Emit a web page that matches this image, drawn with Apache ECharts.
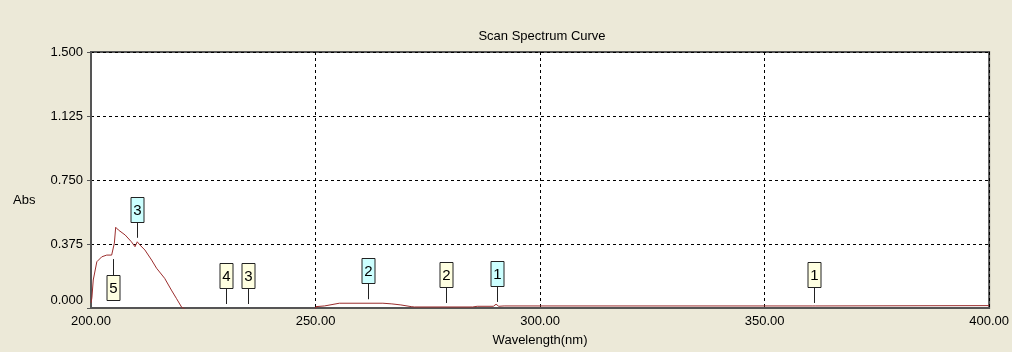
<!DOCTYPE html>
<html>
<head>
<meta charset="utf-8">
<script src="https://cdn.jsdelivr.net/npm/echarts@6/dist/echarts.min.js"></script>
<style>
html,body{margin:0;padding:0;background:#ECE9D8;}
#c{width:1012px;height:352px;}
</style>
</head>
<body>
<div id="c"></div>
<script>
// Spectrum curve (wavelength nm, absorbance)
const specWl  = [200.0, 200.2, 200.5, 201.3, 202.4, 203.5, 204.6, 205.0, 205.2, 205.5, 206.1, 207.6, 209.0, 209.8, 210.3, 210.9, 212.0, 213.5, 214.6, 216.4, 217.9, 219.0, 220.2, 222.0, 230.0, 240.0, 249.8, 250.1, 252.0, 255.3, 265.0, 267.0, 269.0, 271.3, 272.0, 285.0, 286.0, 289.6, 290.2, 290.8, 292.0, 360.6, 361.0, 361.4, 400.0];
const specAbs = [0.030, 0.060, 0.164, 0.271, 0.300, 0.310, 0.310, 0.320, 0.380, 0.473, 0.457, 0.428, 0.388, 0.359, 0.388, 0.369, 0.340, 0.281, 0.233, 0.174, 0.105, 0.057, 0.004, -0.020, -0.060, -0.050, -0.030, 0.008, 0.012, 0.028, 0.028, 0.024, 0.018, 0.008, 0.006, 0.006, 0.010, 0.010, 0.022, 0.010, 0.012, 0.012, 0.004, 0.012, 0.014];

// Peak / valley markers
const markLabel = ['5', '3', '4', '3', '2', '2', '1', '1'];
const markKind  = ['valley', 'peak', 'valley', 'valley', 'peak', 'valley', 'peak', 'valley'];
const markWl    = [204.9, 210.2, 230.0, 234.9, 261.6, 279.1, 290.4, 361.1];
const markAbs   = [0.310, 0.388, 0.000, 0.000, 0.028, 0.006, 0.012, 0.006];

// Axis ticks
const xTicks = {min: 200, max: 400, interval: 50};
const yTicks = {min: 0, max: 1.5, interval: 0.375};

const FONT = 'Liberation Sans';
const chart = echarts.init(document.getElementById('c'), null, {renderer: 'canvas'});

const lineData = specWl.map((w, i) => [w, specAbs[i]]);
const markData = markWl.map((w, i) => [w, markAbs[i], i]);

const option = {
  backgroundColor: '#ECE9D8',
  animation: false,
  title: {
    text: 'Scan Spectrum Curve',
    left: 537,
    textAlign: 'center',
    top: 25,
    textStyle: {fontFamily: FONT, fontSize: 13, fontWeight: 'normal', color: '#000'}
  },
  graphic: [{
    type: 'text', left: 13, top: 194,
    style: {text: 'Abs', font: '13px ' + FONT, fill: '#000'}
  }],
  grid: {
    left: 91, right: 21, top: 52, bottom: 44,
    show: true, backgroundColor: '#fff', borderColor: '#555', borderWidth: 2
  },
  xAxis: {
    type: 'value', min: xTicks.min, max: xTicks.max, interval: xTicks.interval,
    name: 'Wavelength(nm)', nameLocation: 'middle', nameGap: 26,
    nameTextStyle: {fontFamily: FONT, fontSize: 13, color: '#000'},
    axisLine: {show: true, lineStyle: {color: '#555', width: 2}},
    axisTick: {show: false},
    axisLabel: {fontFamily: FONT, fontSize: 13, color: '#000', margin: 7,
      formatter: v => v.toFixed(2)},
    splitLine: {show: true, lineStyle: {color: '#000', width: 1, type: [3, 3]}}
  },
  yAxis: {
    type: 'value', min: yTicks.min, max: yTicks.max, interval: yTicks.interval,
    axisLine: {show: true, lineStyle: {color: '#555', width: 2}},
    axisTick: {show: true, length: 4, lineStyle: {color: '#555'}},
    axisLabel: {fontFamily: FONT, fontSize: 13, color: '#000', margin: 8,
      formatter: v => v === 0 ? '{z|0.000}' : v.toFixed(3),
      rich: {z: {fontFamily: FONT, fontSize: 13, color: '#000', padding: [0, 0, 16, 0]}}},
    splitLine: {show: true, lineStyle: {color: '#000', width: 1, type: [3, 3]}}
  },
  series: [{
    type: 'line',
    data: lineData,
    showSymbol: false,
    clip: true,
    lineStyle: {color: '#9B2D2D', width: 1},
    z: 3
  }, {
    type: 'custom',
    data: markData,
    clip: false,
    z: 5,
    renderItem: function (params, api) {
      const i = api.value(2);
      const p = api.coord([api.value(0), api.value(1)]);
      const kind = markKind[i];
      const dir = (kind === 'valley' && markAbs[i] > 0.1) ? -1 : 1; // 1 = box above
      const gap = 4, stem = 16, bh = 25, bw = 13;
      const x = Math.round(p[0]) + 0.5;
      const y0 = p[1] - dir * gap;
      const y1 = p[1] - dir * (gap + stem);
      const boxTop = Math.round(dir > 0 ? y1 - bh : y1) + 0.5;
      const fill = kind === 'peak' ? '#CCFFFF' : '#FFFFE1';
      return {
        type: 'group',
        children: [
          {type: 'line', shape: {x1: x, y1: y0, x2: x, y2: y1},
           style: {stroke: '#222', lineWidth: 1}},
          {type: 'rect', shape: {x: x - bw / 2, y: boxTop, width: bw, height: bh},
           style: {fill: fill, stroke: '#222', lineWidth: 1}},
          {type: 'text', style: {text: markLabel[i], x: x, y: boxTop + bh / 2 + 1,
           align: 'center', verticalAlign: 'middle', font: '15px ' + FONT, fill: '#000'}}
        ]
      };
    }
  }]
};
chart.setOption(option);
</script>
</body>
</html>
